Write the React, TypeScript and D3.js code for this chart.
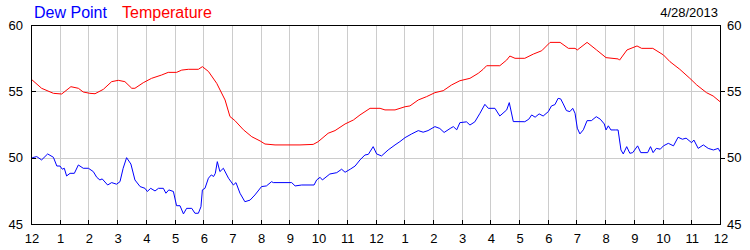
import React from "react";
import * as d3 from "d3";

const hourLabels = ["12","1","2","3","4","5","6","7","8","9","10","11","12","1","2","3","4","5","6","7","8","9","10","11","12"];
const yTicks = [45, 50, 55, 60];
const dateLabel = "4/28/2013";

const tempHours = [0,0.37,0.78,1.07,1.39,1.65,1.82,2.05,2.23,2.52,2.81,3.04,3.27,3.51,3.62,3.91,4.2,4.55,4.78,5.07,5.25,5.48,5.83,5.97,6.18,6.47,6.76,6.93,7.1,7.4,7.69,7.98,8.15,8.5,9.37,9.83,10.0,10.35,10.59,10.94,11.23,11.46,11.81,12.16,12.33,12.68,13.03,13.2,13.49,13.78,14.07,14.36,14.65,14.94,15.29,15.58,15.75,15.87,16.33,16.57,16.68,16.86,17.2,17.5,17.79,18.08,18.43,18.72,18.95,19.03,19.37,19.7,20.03,20.46,20.5,20.76,21.11,21.27,21.66,22.03,22.26,22.6,22.95,23.19,23.53,23.76,24];
const tempValues = [55.93,55.23,54.85,54.8,55.35,55.23,54.95,54.85,54.82,55.15,55.73,55.83,55.73,55.23,55.23,55.65,55.98,56.23,56.43,56.43,56.6,56.66,56.66,56.86,56.5,55.6,54.35,53.1,52.8,52.1,51.58,51.26,51.03,50.96,50.96,51.0,51.2,51.84,52.04,52.54,52.84,53.22,53.72,53.72,53.6,53.6,53.84,53.9,54.35,54.6,54.9,55.05,55.48,55.8,55.98,56.36,56.66,56.93,56.93,57.36,57.66,57.49,57.49,57.81,58.06,58.69,58.69,58.24,58.24,58.12,58.69,58.12,57.54,57.44,57.35,58.12,58.42,58.24,58.24,57.74,57.23,56.66,55.98,55.48,54.9,54.65,54.22];

const dewHours = [0,0.05,0.2,0.37,0.58,0.78,0.9,1.01,1.09,1.16,1.24,1.36,1.51,1.65,1.82,2.0,2.17,2.29,2.4,2.48,2.67,2.81,2.98,3.1,3.21,3.33,3.48,3.62,3.8,3.97,4.05,4.17,4.32,4.44,4.61,4.7,4.8,4.96,5.07,5.19,5.31,5.42,5.6,5.71,5.83,5.92,5.97,6.06,6.18,6.28,6.36,6.42,6.49,6.58,6.7,6.88,7.05,7.14,7.28,7.45,7.63,7.8,8.03,8.2,8.38,8.44,9.08,9.2,9.43,9.86,9.95,10.07,10.15,10.41,10.65,10.82,10.94,11.12,11.29,11.46,11.63,11.75,11.92,12.04,12.21,12.44,12.68,12.85,13.03,13.26,13.49,13.66,13.83,14.07,14.24,14.39,14.6,14.71,14.83,14.94,15.17,15.29,15.46,15.64,15.81,15.93,16.16,16.33,16.57,16.66,16.8,17.2,17.34,17.44,17.56,17.7,17.84,18.02,18.13,18.25,18.36,18.45,18.54,18.65,18.77,18.87,18.95,19.03,19.12,19.24,19.37,19.52,19.69,19.83,19.97,20.03,20.11,20.2,20.37,20.45,20.55,20.63,20.75,20.86,20.96,21.13,21.24,21.48,21.58,21.67,21.78,21.92,22.03,22.2,22.38,22.54,22.69,22.82,23.01,23.09,23.24,23.42,23.59,23.77,23.94,24];
const dewValues = [49.95,50.0,50.08,49.83,50.28,50.03,49.37,49.37,49.13,49.2,48.62,48.82,48.82,49.45,49.2,49.2,48.95,48.52,48.32,48.4,47.94,48.12,48.0,48.19,49.2,50.0,49.52,48.32,47.82,47.69,47.45,47.69,47.49,47.69,47.69,47.32,47.57,47.45,46.38,46.38,45.76,46.18,46.18,45.81,45.81,46.3,47.57,47.69,48.45,48.7,48.58,48.82,49.7,48.95,49.2,48.45,47.94,48.12,47.32,46.68,46.8,47.19,47.82,47.87,48.19,48.12,48.12,47.87,47.94,47.94,48.32,48.52,48.32,48.77,48.87,49.13,48.9,49.13,49.37,49.83,50.2,50.25,50.83,50.28,50.13,50.58,50.96,51.21,51.51,51.79,52.04,51.92,52.04,52.34,52.2,51.9,52.2,52.34,52.1,52.64,52.7,52.46,52.7,53.35,54.02,53.72,53.72,53.14,53.6,54.15,52.72,52.71,52.9,53.22,53.05,53.3,53.14,53.47,53.9,54.0,54.47,54.43,54.05,53.55,53.47,53.72,53.35,52.22,51.79,52.1,52.79,52.79,53.09,52.9,52.54,52.09,52.4,52.09,52.09,52.09,50.58,50.28,50.83,50.33,50.38,50.89,50.38,50.38,50.83,50.38,50.7,50.64,50.89,51.08,50.89,51.54,51.39,51.47,51.13,51.33,50.7,50.96,50.7,50.58,50.7,50.45];

const W = 750, H = 250;
const left = 31, right = 720, top = 25, bottom = 224;
const font = "'Liberation Sans', Arial, sans-serif";

export default function App() {
  const x = d3.scaleLinear().domain([0, 24]).range([left, right]);
  const y = d3.scaleLinear().domain([45, 60]).range([bottom, top]);
  const line = d3.line<[number, number]>().x(d => x(d[0])).y(d => y(d[1]));
  const tempPts = tempHours.map((h, i) => [h, tempValues[i]] as [number, number]);
  const dewPts = dewHours.map((h, i) => [h, dewValues[i]] as [number, number]);
  const hours = d3.range(0, 25);
  const gridColor = "#cccccc";
  return (
    <svg width={W} height={H} style={{ position: "absolute", left: 0, top: 0, background: "#fff" }} fontFamily={font}>
      <rect x={0} y={0} width={W} height={H} fill="#fff" />
      {hours.slice(1, 24).map(h => (
        <line key={"vg" + h} x1={Math.round(x(h)) + 0.5} x2={Math.round(x(h)) + 0.5} y1={top} y2={bottom} stroke={gridColor} strokeWidth={1} />
      ))}
      {[50, 55].map(v => (
        <line key={"hg" + v} x1={left} x2={right} y1={Math.round(y(v)) + 0.5} y2={Math.round(y(v)) + 0.5} stroke={gridColor} strokeWidth={1} />
      ))}
      {hours.slice(1, 24).map(h => (
        <line key={"xt" + h} x1={Math.round(x(h)) + 0.5} x2={Math.round(x(h)) + 0.5} y1={bottom - 4} y2={bottom} stroke="#000" strokeWidth={1} />
      ))}
      {[50, 55].map(v => (
        <g key={"yt" + v}>
          <line x1={left} x2={left + 5} y1={Math.round(y(v)) + 0.5} y2={Math.round(y(v)) + 0.5} stroke="#000" />
          <line x1={right} x2={right + 5} y1={Math.round(y(v)) + 0.5} y2={Math.round(y(v)) + 0.5} stroke="#000" />
        </g>
      ))}
      <path d={line(tempPts) || ""} fill="none" stroke="#ff0000" strokeWidth={1} />
      <path d={line(dewPts) || ""} fill="none" stroke="#0000ff" strokeWidth={1} />
      <rect x={left + 0.5} y={top + 0.5} width={right - left} height={bottom - top} fill="none" stroke="#000" strokeWidth={1} />
      {yTicks.map(v => (
        <g key={"yl" + v}>
          <text x={23} y={y(v)} dy="0.35em" textAnchor="end" fontSize={13} fill="#000">{v}</text>
          <text x={727} y={y(v)} dy="0.35em" textAnchor="start" fontSize={13} fill="#000">{v}</text>
        </g>
      ))}
      {hourLabels.map((t, i) => (
        <text key={"xl" + i} x={x(i) + 1} y={243} textAnchor="middle" fontSize={13} fill="#000">{t}</text>
      ))}
      <text x={34} y={18} fontSize={16} fill="#0000ff">Dew Point</text>
      <text x={122} y={18} fontSize={16} fill="#ff0000">Temperature</text>
      <text x={718} y={17} fontSize={13} textAnchor="end" fill="#000">{dateLabel}</text>
    </svg>
  );
}
